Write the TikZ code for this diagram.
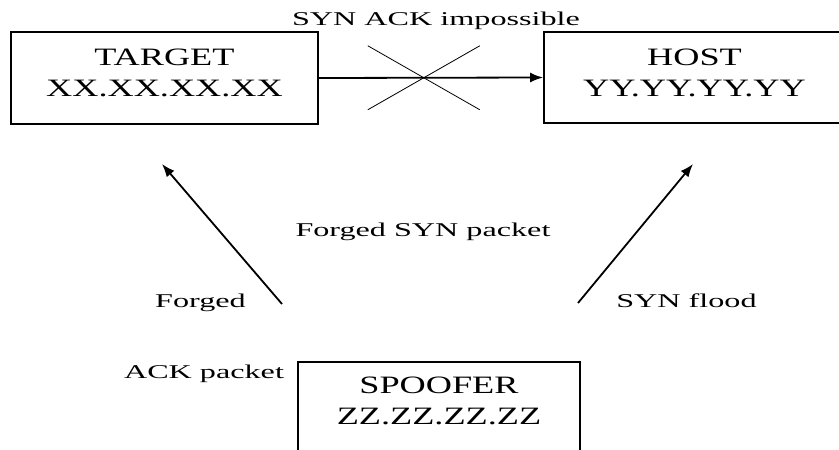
\documentclass[tikz,border=0pt]{standalone}
\usepackage{fontspec}
\setmainfont{Liberation Serif}
\newfontfamily\boxfont{Liberation Serif}[FakeStretch=1.45]
\newfontfamily\tagfont{Liberation Serif}[FakeStretch=1.65]
\usetikzlibrary{arrows.meta, calc, positioning}
\tikzset{
    hostBox/.style={draw, line width=1.8pt, inner xsep=0pt, inner ysep=0pt, align=center, font=\boxfont\fontsize{25}{31}\selectfont, text height=64pt},
    atkEdge/.style={->, >={Latex[length=13pt, width=10pt]}, line width=1.8pt},
    crossLine/.style={line width=0.8pt},
    atkLabel/.style={font=\tagfont\fontsize{19.5}{23}\selectfont, anchor=base, inner sep=0pt},
}
\newcommand{\drawBlocked}[3]{
    % mark the link as blocked with a cross
    \coordinate (blk) at ($(#1)!#3!(#2)$);
    \draw[crossLine] ($(blk)+(-56,-32)$) -- ($(blk)+(56,32)$);
    \draw[crossLine] ($(blk)+(-56,32)$) -- ($(blk)+(56,-32)$);
}

\begin{document}
\begin{tikzpicture}[x=1pt, y=-1pt]

        \useasboundingbox (0,0) rectangle (839,450);
        \clip (0,0) rectangle (839,450);

        \node[hostBox, minimum width=307pt, text depth=28pt] (target) at (164.5,78) {TARGET\\XX.XX.XX.XX};
        \node[hostBox, minimum width=301pt, text depth=27pt] (host) at (694.5,77.5) {HOST\\YY.YY.YY.YY};
        \node[hostBox, minimum width=282pt, text height=62pt, text depth=46pt] (spoofer) at (439,416) {SPOOFER\\ZZ.ZZ.ZZ.ZZ};

        \coordinate (fTail) at (282,304);
        \coordinate (fHead) at (162,164);
        \coordinate (sTail) at (578,303);
        \coordinate (sHead) at (693,164);

        \draw[atkEdge] (target.east) -- (host.west);
        \drawBlocked{target.east}{host.west}{0.468}
        \draw[atkEdge] (fTail) -- (fHead);
        \draw[atkEdge] (sTail) -- (sHead);

        \node[atkLabel] (impossible) at (436,25) {SYN ACK impossible};
        \node[atkLabel] (forgedSyn) at (423,236.5) {Forged SYN packet};
        \node[atkLabel] (forgedTop) at (200.5,307.5) {Forged};
        \node[atkLabel] (ackPkt) at (204,378) {ACK packet};
        \node[atkLabel] (synFlood) at (686.5,307) {SYN flood};

    \end{tikzpicture}
\end{document}
